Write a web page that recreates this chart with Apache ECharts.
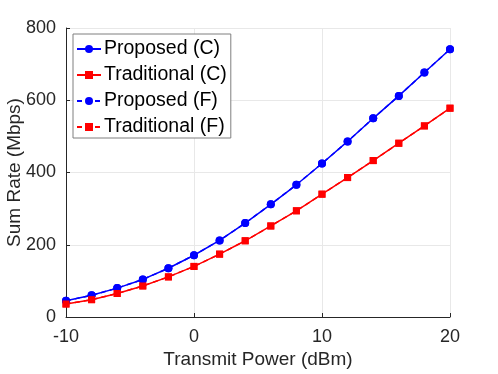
<!DOCTYPE html>
<html><head><meta charset="utf-8">
<script src="https://cdn.jsdelivr.net/npm/echarts@6/dist/echarts.min.js"></script>
<style>html,body{margin:0;padding:0;background:#fff}#c{width:498px;height:374px}</style>
</head><body><div id="c"></div>
<script>
var powerDbm = [-10,-8,-6,-4,-2,0,2,4,6,8,10,12,14,16,18,20];
var proposedC = [45,60,80,104,135,171,212,260,312,366,425,486,550,612,677,741];
var traditionalC = [36,48,65,86,111,140,174,211,252,294,340,386,433,481,529,578];
var proposedF = [45,60,80,104,135,171,212,260,312,366,425,486,550,612,677,741];
var traditionalF = [36,48,65,86,111,140,174,211,252,294,340,386,433,481,529,578];
var seriesNames = ['Proposed (C)','Traditional (C)','Proposed (F)','Traditional (F)'];

function pairs(ys){ return powerDbm.map(function(x,i){ return [x, ys[i]]; }); }
var font = 'Liberation Sans, Arial, sans-serif';
var axisCol = '#262626';
function mk(name, data, color, symbol, size, dashed, z){
  return {name:name, type:'line', data:pairs(data), symbol:symbol, symbolSize:size,
    showSymbol:true, z:z,
    lineStyle:{color:color, width:1.5, type: dashed ? [5,4] : 'solid'},
    itemStyle:{color:color}};
}
var chart = echarts.init(document.getElementById('c'), null, {renderer:'canvas'});
chart.setOption({
  animation:false,
  backgroundColor:'#fff',
  grid:{left:66, right:48, top:28, bottom:57, containLabel:false, outerBoundsMode:'none'},
  legend:{
    show:true, orient:'vertical', left:73, top:34,
    data:seriesNames,
    itemWidth:24, itemHeight:10, itemGap:6,
    backgroundColor:'#fff', borderColor:'#7f7f7f', borderWidth:1, borderRadius:0,
    padding:[5,4,1,3],
    textStyle:{fontFamily:font, fontSize:19.5, color:'#000', lineHeight:20, padding:[0,0,0,-2]}
  },
  xAxis:{
    type:'value', min:-10, max:20, interval:10,
    name:'Transmit Power (dBm)', nameLocation:'middle', nameGap:33, nameMoveOverlap:false,
    nameTextStyle:{fontFamily:font, fontSize:19, color:axisCol},
    axisLine:{show:true, onZero:false, lineStyle:{color:axisCol, width:1}},
    axisTick:{show:true, inside:true, length:4, lineStyle:{color:axisCol}},
    axisLabel:{fontFamily:font, fontSize:18, color:axisCol, margin:11},
    splitLine:{show:true, lineStyle:{color:'#e8e8e8', width:1}}
  },
  yAxis:{
    type:'value', min:0, max:800, interval:200,
    name:'Sum Rate (Mbps)', nameLocation:'middle', nameGap:42, nameRotate:90, nameMoveOverlap:false,
    nameTextStyle:{fontFamily:font, fontSize:19, color:axisCol},
    axisLine:{show:true, onZero:false, lineStyle:{color:axisCol, width:1}},
    axisTick:{show:true, inside:true, length:4, lineStyle:{color:axisCol}},
    axisLabel:{fontFamily:font, fontSize:18, color:axisCol, margin:10},
    splitLine:{show:true, lineStyle:{color:'#e8e8e8', width:1}}
  },
  series:[
    mk(seriesNames[2], proposedF, '#0000ff', 'circle', 8, true, 2),
    mk(seriesNames[3], traditionalF, '#ff0000', 'rect', 7, true, 2),
    mk(seriesNames[0], proposedC, '#0000ff', 'circle', 8, false, 3),
    mk(seriesNames[1], traditionalC, '#ff0000', 'rect', 7, false, 3)
  ]
});
</script></body></html>
